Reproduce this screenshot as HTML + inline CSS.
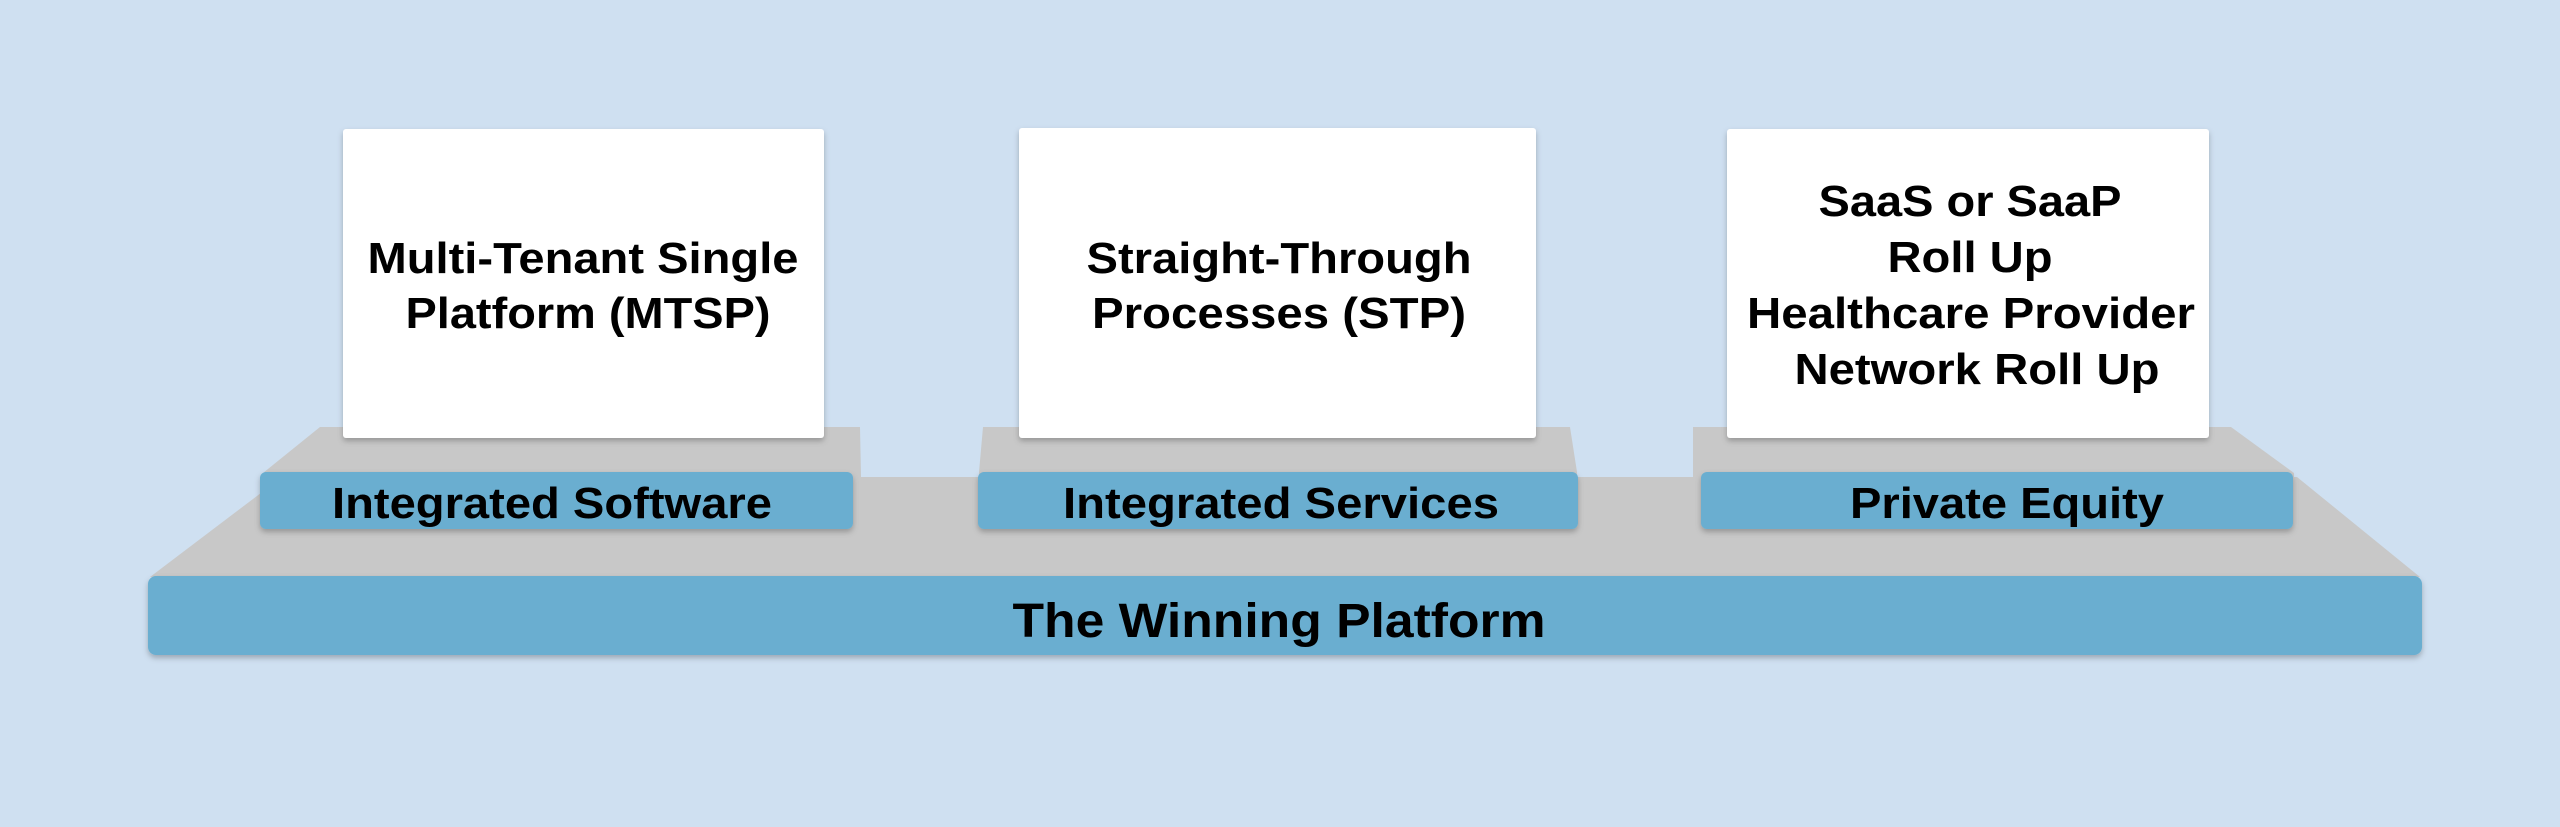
<!DOCTYPE html>
<html><head><meta charset="utf-8"><style>html,body{margin:0;padding:0;background:#cfe0f1;}svg{display:block}</style></head>
<body>
<svg width="2560" height="827" viewBox="0 0 2560 827" xmlns="http://www.w3.org/2000/svg" font-family="Liberation Sans, Arial, sans-serif" font-weight="bold" fill="#000">
<defs>
<filter id="sh" x="-5%" y="-5%" width="110%" height="120%"><feDropShadow dx="0" dy="3" stdDeviation="3" flood-color="#000" flood-opacity="0.25"/></filter>
</defs>
<rect width="2560" height="827" fill="#cfe0f1"/>
<!-- big platform -->
<polygon points="282,477 2297,477 2420,577 150,577" fill="#c8c8c8"/>
<rect x="148" y="576" width="2274" height="79" rx="8" fill="#6aaed0" filter="url(#sh)"/>
<text x="1279" y="637" font-size="48" text-anchor="middle" textLength="533" lengthAdjust="spacingAndGlyphs">The Winning Platform</text>

<!-- platform 1 -->
<polygon points="320,427 860,427 862,525 263,525 263,473" fill="#c8c8c8"/>
<rect x="260" y="472" width="593" height="57" rx="6" fill="#6aaed0" filter="url(#sh)"/>
<text x="552" y="518" font-size="44" text-anchor="middle" textLength="440" lengthAdjust="spacingAndGlyphs">Integrated Software</text>

<!-- platform 2 -->
<polygon points="983,427 1570,427 1577,472 1577,525 979,525 979,472" fill="#c8c8c8"/>
<rect x="978" y="472" width="600" height="57" rx="6" fill="#6aaed0" filter="url(#sh)"/>
<text x="1281" y="518" font-size="44" text-anchor="middle" textLength="436" lengthAdjust="spacingAndGlyphs">Integrated Services</text>

<!-- platform 3 -->
<polygon points="1693,427 2231,427 2294,473 2294,525 1693,525" fill="#c8c8c8"/>
<rect x="1701" y="472" width="592" height="57" rx="6" fill="#6aaed0" filter="url(#sh)"/>
<text x="2007" y="518" font-size="44" text-anchor="middle" textLength="314" lengthAdjust="spacingAndGlyphs">Private Equity</text>

<!-- cards -->
<rect x="343" y="129" width="481" height="309" rx="3" fill="#fff" filter="url(#sh)"/>
<text x="583" y="273" font-size="44" text-anchor="middle" textLength="431" lengthAdjust="spacingAndGlyphs">Multi-Tenant Single</text>
<text x="588" y="328" font-size="44" text-anchor="middle" textLength="365" lengthAdjust="spacingAndGlyphs">Platform (MTSP)</text>

<rect x="1019" y="128" width="517" height="310" rx="3" fill="#fff" filter="url(#sh)"/>
<text x="1279" y="273" font-size="44" text-anchor="middle" textLength="385" lengthAdjust="spacingAndGlyphs">Straight-Through</text>
<text x="1279" y="328" font-size="44" text-anchor="middle" textLength="374" lengthAdjust="spacingAndGlyphs">Processes (STP)</text>

<rect x="1727" y="129" width="482" height="309" rx="3" fill="#fff" filter="url(#sh)"/>
<text x="1970" y="216" font-size="44" text-anchor="middle" textLength="303" lengthAdjust="spacingAndGlyphs">SaaS or SaaP</text>
<text x="1970" y="272" font-size="44" text-anchor="middle" textLength="165" lengthAdjust="spacingAndGlyphs">Roll Up</text>
<text x="1971" y="328" font-size="44" text-anchor="middle" textLength="448" lengthAdjust="spacingAndGlyphs">Healthcare Provider</text>
<text x="1977" y="384" font-size="44" text-anchor="middle" textLength="365" lengthAdjust="spacingAndGlyphs">Network Roll Up</text>
</svg>
</body></html>
